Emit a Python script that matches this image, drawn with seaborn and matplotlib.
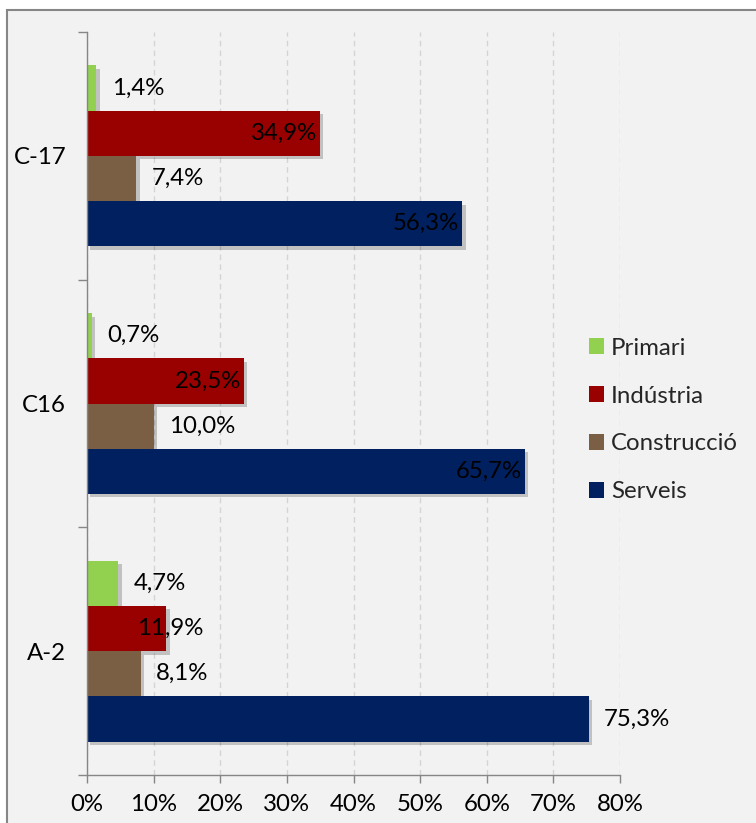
import matplotlib
matplotlib.use("Agg")
import matplotlib.pyplot as plt
import matplotlib.patheffects as pe
from matplotlib.patches import Rectangle, Patch
from matplotlib.ticker import FixedLocator
import seaborn as sns
import pandas as pd

# ---- data ----
categories = ["C-17", "C16", "A-2"]
sectors = ["Primari", "Indústria", "Construcció", "Serveis"]
primari = [1.4, 0.7, 4.7]
industria = [34.9, 23.5, 11.9]
construccio = [7.4, 10.0, 8.1]
serveis = [56.3, 65.7, 75.3]
x_ticks = [0, 10, 20, 30, 40, 50, 60, 70, 80]
x_tick_labels = ["0%", "10%", "20%", "30%", "40%", "50%", "60%", "70%", "80%"]

colors = ["#92d050", "#990000", "#7a5f45", "#002060"]
# label placement per sector (per category): out = outside end, in = inside end, mid = centred on end
placement = {
    "Primari": ["out", "out", "out"],
    "Indústria": ["in", "in", "mid"],
    "Construcció": ["out", "out", "out"],
    "Serveis": ["in", "in", "out"],
}

rows = []
for s, vals in zip(sectors, [primari, industria, construccio, serveis]):
    for c, v in zip(categories, vals):
        rows.append({"cat": c, "sector": s, "val": v})
df = pd.DataFrame(rows)

sns.set_theme(style="white")
plt.rcParams["font.family"] = ["Lato", "DejaVu Sans"]
FS = 17.3

fig = plt.figure(figsize=(7.56, 8.23), dpi=100)
fig.patch.set_facecolor("white")
fig.patches.append(Rectangle((7 / 756, -0.2), 1.2, 1.2 - 10 / 823,
                             transform=fig.transFigure, facecolor="#f2f2f2",
                             edgecolor="#868686", linewidth=1.5, zorder=-10))

ax = fig.add_axes([87 / 756, 48 / 823, 533 / 756, 743 / 823])
ax.set_facecolor("none")

sns.barplot(data=df, y="cat", x="val", hue="sector", order=categories,
            hue_order=sectors, palette=colors, orient="h", width=0.73,
            saturation=1, linewidth=0, legend=False, ax=ax)

for bar in ax.patches:
    bar.set_path_effects([pe.SimplePatchShadow(offset=(2.5, -2.5), shadow_rgbFace="black", alpha=0.2),
                          pe.Normal()])

# data labels
for s, cont in zip(sectors, ax.containers):
    for bar in cont:
        v = bar.get_width()
        yc = bar.get_y() + bar.get_height() / 2
        ci = int(round(yc))
        mode = placement[s][ci]
        txt = f"{v:.1f}%".replace(".", ",")
        if mode == "out":
            off, ha = 11, "left"
        elif mode == "in":
            off, ha = -2, "right"
        else:
            off, ha = 3, "center"
        ax.annotate(txt, xy=(v, yc), xytext=(off, 0), textcoords="offset points",
                    ha=ha, va="center", fontsize=FS, color="black", zorder=5)

ax.set_xlim(0, 80)
ax.set_ylim(2.5, -0.5)
ax.set_xticks(x_ticks)
ax.set_xticklabels(x_tick_labels)
ax.set_xlabel("")
ax.set_ylabel("")

ax.set_yticks(range(len(categories)))
ax.set_yticklabels(categories)
ax.yaxis.set_minor_locator(FixedLocator([-0.5, 0.5, 1.5, 2.5]))
ax.tick_params(axis="y", which="major", length=0, pad=15, labelsize=FS, labelcolor="black")
ax.tick_params(axis="y", which="minor", length=6.5, width=1, color="#868686", direction="out", left=True)
ax.tick_params(axis="x", which="major", length=6, width=1, color="#868686", direction="out",
               pad=8, labelsize=FS, labelcolor="black", bottom=True)

for sp in ["top", "right"]:
    ax.spines[sp].set_visible(False)
for sp in ["left", "bottom"]:
    ax.spines[sp].set_color("#868686")
    ax.spines[sp].set_linewidth(1)

ax.xaxis.grid(True, linestyle=(0, (4, 3)), color="#d4d4d4", linewidth=1)
ax.yaxis.grid(False)
ax.set_axisbelow(True)

handles = [Patch(facecolor=c, edgecolor="none") for c in colors]
fig.legend(handles, sectors, loc="center left",
           bbox_to_anchor=(589 / 756, 1 - 420 / 823), frameon=False,
           fontsize=FS, handlelength=0.62, handleheight=0.62, handletextpad=0.3,
           labelspacing=1.12, borderpad=0, borderaxespad=0)

fig.savefig("out.png", dpi=100)
